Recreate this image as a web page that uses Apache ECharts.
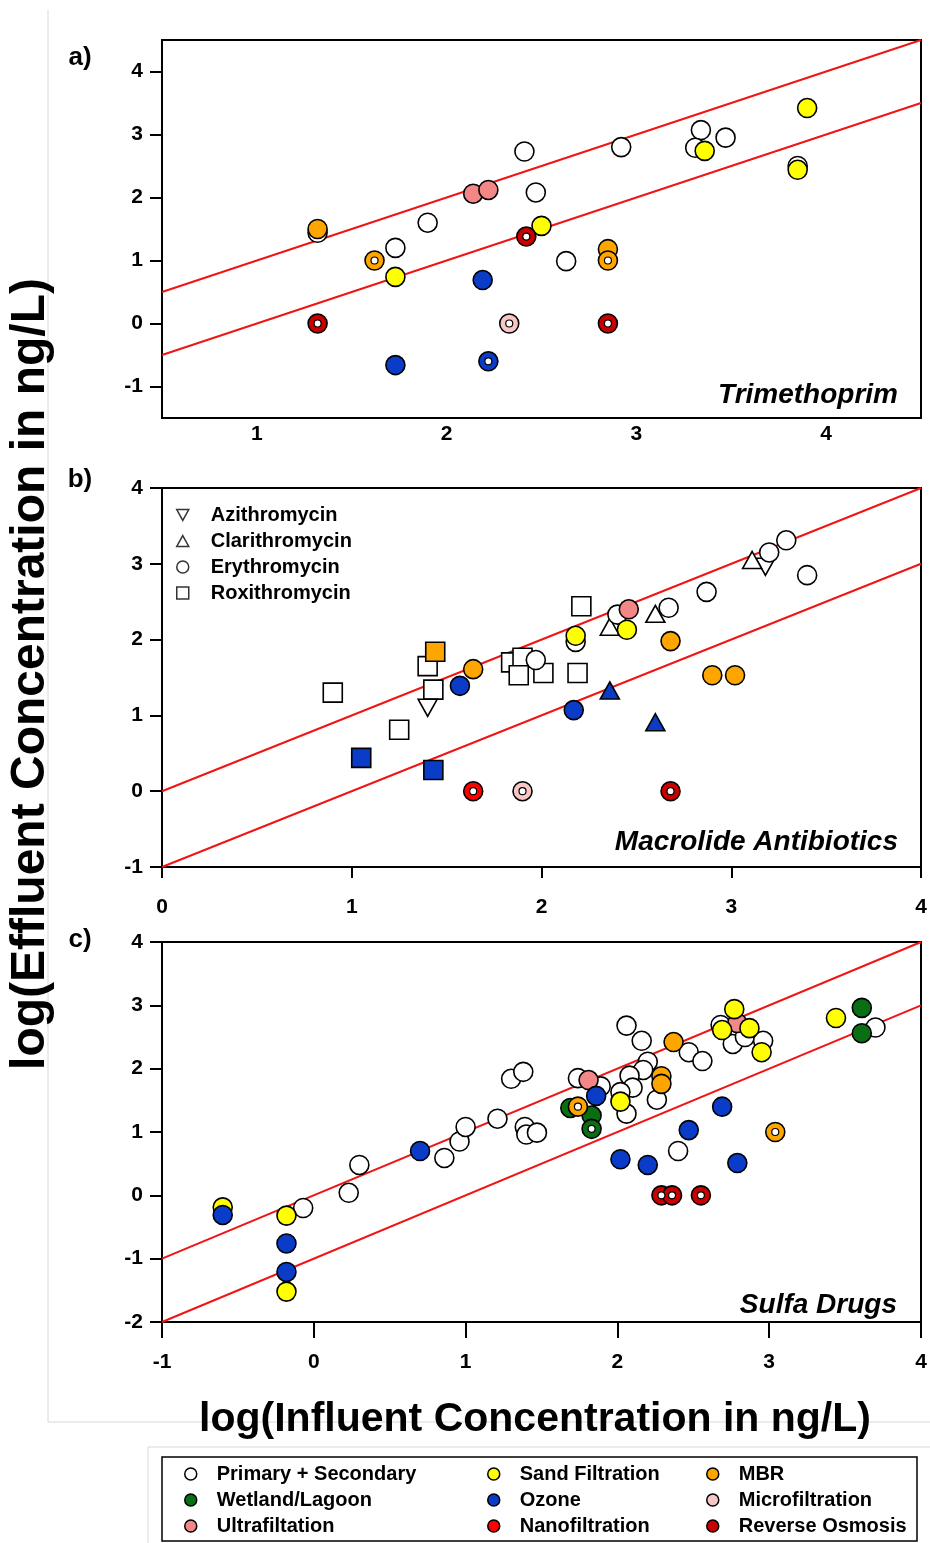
<!DOCTYPE html>
<html><head><meta charset="utf-8">
<script src="https://cdn.jsdelivr.net/npm/echarts@6/dist/echarts.min.js"></script>
<style>html,body{margin:0;padding:0;background:#fff}#c{width:930px;height:1543px}</style>
</head><body><div id="c"></div>
<script>
// ---------- DATA ----------
const treatmentCodes = ['P','W','U','S','O','N','M','F','R'];
const treatmentNames = ['Primary + Secondary','Wetland/Lagoon','Ultrafiltation','Sand Filtration','Ozone','Nanofiltration','MBR','Microfiltration','Reverse Osmosis'];
const treatmentColors = ['#ffffff','#0a6e14','#f38787','#ffff00','#0a3cc8','#ff0000','#ffa500','#f9c6c6','#c80000'];

const compoundCodes = ['A','C','E','R'];
const compoundNames = ['Azithromycin','Clarithromycin','Erythromycin','Roxithromycin'];

const panelTitles = ['Trimethoprim','Macrolide Antibiotics','Sulfa Drugs'];
const panelLetters = ['a)','b)','c)'];
const xRanges = [[0.5,4.5],[0,4],[-1,4]];
const yRanges = [[-1.5,4.5],[-1,4],[-2,4]];
const xTickValues = [[1,2,3,4],[0,1,2,3,4],[-1,0,1,2,3,4]];
const yTickValues = [[-1,0,1,2,3,4],[-1,0,1,2,3,4],[-2,-1,0,1,2,3,4]];
const refLineOffsets = [0,-1];

// [log influent, log effluent, treatment, censored(1=ring)]
const trimethoprimData = [
  [1.32,1.44,'P',0],[1.32,1.50,'M',0],[1.32,0.00,'R',1],[1.62,1.00,'M',1],
  [1.73,1.20,'P',0],[1.73,0.74,'S',0],[1.90,1.60,'P',0],[1.73,-0.66,'O',0],
  [2.14,2.06,'U',0],[2.22,2.12,'U',0],[2.41,2.73,'P',0],[2.47,2.08,'P',0],
  [2.42,1.38,'R',1],[2.50,1.55,'S',0],[2.63,0.99,'P',0],[2.85,1.18,'M',0],
  [2.85,1.00,'M',1],[2.19,0.69,'O',0],[2.33,0.00,'F',1],[2.85,0.00,'R',1],
  [2.22,-0.60,'O',1],[2.92,2.80,'P',0],[3.34,3.07,'P',0],[3.31,2.79,'P',0],
  [3.36,2.74,'S',0],[3.47,2.95,'P',0],[3.90,3.42,'S',0],[3.85,2.50,'P',0],
  [3.85,2.44,'S',0]
];

// [log influent, log effluent, treatment, compound, censored]
const macrolideData = [
  [0.90,1.30,'P','R',0],[1.44,1.84,'M','R',0],[1.40,1.65,'P','R',0],[1.43,1.34,'P','R',0],
  [1.25,0.81,'P','R',0],[1.05,0.44,'O','R',0],[1.43,0.28,'O','R',0],[1.84,1.70,'P','R',0],
  [1.90,1.76,'P','R',0],[1.88,1.53,'P','R',0],[2.01,1.56,'P','R',0],[2.21,2.44,'P','R',0],
  [2.19,1.56,'P','R',0],
  [1.40,1.10,'P','A',0],[3.18,2.96,'P','A',0],
  [2.36,2.17,'P','C',0],[2.60,2.34,'P','C',0],[3.11,3.05,'P','C',0],[2.36,1.33,'O','C',0],
  [2.60,0.91,'O','C',0],
  [1.97,1.73,'P','E',0],[1.57,1.39,'O','E',0],[1.64,1.61,'M','E',0],[1.64,0.00,'N','E',1],
  [1.90,0.00,'F','E',1],[2.18,2.05,'S','E',0],[2.18,1.97,'P','E',0],[2.17,1.07,'O','E',0],
  [2.40,2.33,'P','E',0],[2.46,2.40,'U','E',0],[2.45,2.13,'S','E',0],[2.67,2.42,'P','E',0],
  [2.68,1.98,'M','E',0],[2.68,0.00,'R','E',1],[2.87,2.63,'P','E',0],[2.90,1.53,'M','E',0],
  [3.02,1.53,'M','E',0],[3.20,3.15,'P','E',0],[3.29,3.31,'P','E',0],[3.40,2.85,'P','E',0]
];

// [log influent, log effluent, treatment, censored]
const sulfaData = [
  [-0.60,-0.19,'S',0],[-0.60,-0.31,'O',0],[-0.18,-0.32,'S',0],[-0.07,-0.20,'P',0],
  [-0.18,-0.76,'O',0],[-0.18,-1.21,'O',0],[-0.18,-1.52,'S',0],[0.23,0.04,'P',0],
  [0.30,0.48,'P',0],[0.70,0.70,'O',0],[0.86,0.59,'P',0],[0.96,0.85,'P',0],
  [1.00,1.08,'P',0],[1.21,1.21,'P',0],[1.30,1.84,'P',0],[1.38,1.95,'P',0],
  [1.39,1.08,'P',0],[1.40,0.96,'P',0],[1.47,0.99,'P',0],
  [1.69,1.38,'W',0],[1.74,1.40,'M',1],[1.74,1.85,'P',0],[1.89,1.72,'P',0],
  [1.81,1.82,'U',0],[1.86,1.57,'O',0],[1.83,1.26,'W',0],[1.83,1.05,'W',1],
  [2.06,2.68,'P',0],[2.16,2.44,'P',0],[2.37,2.42,'M',0],[2.47,2.26,'P',0],
  [2.56,2.12,'P',0],[2.20,2.11,'P',0],[2.17,1.98,'P',0],[2.08,1.89,'P',0],
  [2.10,1.70,'P',0],[2.02,1.63,'P',0],[2.02,1.48,'S',0],[2.06,1.29,'P',0],
  [2.29,1.88,'M',0],[2.29,1.76,'M',0],[2.26,1.51,'P',0],
  [2.69,1.40,'O',0],[2.47,1.03,'O',0],[2.40,0.70,'P',0],[2.02,0.57,'O',0],
  [2.20,0.48,'O',0],[2.79,0.51,'O',0],[3.04,1.00,'M',1],
  [2.29,0.00,'R',1],[2.36,0.00,'R',1],[2.55,0.00,'R',1],
  [2.68,2.69,'P',0],[2.76,2.39,'P',0],[2.84,2.50,'P',0],[2.96,2.44,'P',0],
  [2.77,2.94,'S',0],[2.69,2.61,'S',0],[2.87,2.64,'S',0],[2.95,2.26,'S',0],
  [2.79,2.72,'U',0],
  [3.44,2.80,'S',0],[3.61,2.96,'W',0],[3.61,2.56,'W',0],[3.70,2.65,'P',0]
];

// ---------- BUILD ----------
const FONT = '"Liberation Sans", Arial, sans-serif';
const chart = echarts.init(document.getElementById('c'), null, {renderer:'canvas'});

const gridBoxes = [
  {left:162, top:40, width:759, height:378},
  {left:162, top:488, width:759, height:379},
  {left:162, top:942, width:759, height:380}
];
const xTickLen = [0, 11, 16];
const xLabelMargin = [6, 30, 30];

const grids = gridBoxes.map(g => Object.assign({show:true, borderColor:'#000', borderWidth:2, backgroundColor:'#fff'}, g));
const xAxes = gridBoxes.map((g,i) => ({
  type:'value', gridIndex:i, min:xRanges[i][0], max:xRanges[i][1],
  axisLine:{show:true, onZero:false, lineStyle:{color:'#000', width:2}},
  axisTick:{show:xTickLen[i]>0, length:xTickLen[i], customValues:xTickValues[i], lineStyle:{color:'#000', width:2}},
  axisLabel:{customValues:xTickValues[i], margin:xLabelMargin[i], color:'#000', fontFamily:FONT, fontWeight:'bold', fontSize:21},
  splitLine:{show:false}
}));
const yAxes = gridBoxes.map((g,i) => ({
  type:'value', gridIndex:i, min:yRanges[i][0], max:yRanges[i][1],
  axisLine:{show:true, onZero:false, lineStyle:{color:'#000', width:2}},
  axisTick:{show:true, length:12, customValues:yTickValues[i], lineStyle:{color:'#000', width:2}},
  axisLabel:{customValues:yTickValues[i], margin:19, color:'#000', fontFamily:FONT, fontWeight:'bold', fontSize:21},
  splitLine:{show:false}
}));

const series = [];
// reference lines (1:1 and 1:10 removal)
[0,1,2].forEach(p => {
  refLineOffsets.forEach(off => {
    series.push({
      type:'line', xAxisIndex:p, yAxisIndex:p, silent:true, symbol:'none', clip:true, z:1,
      lineStyle:{color:'#f01414', width:2},
      data:[[xRanges[p][0], xRanges[p][0]+off],[xRanges[p][1], xRanges[p][1]+off]]
    });
  });
});

const invTri = 'path://M0,0 L10,0 L5,9 Z';
const upTri = 'path://M5,0 L10,9 L0,9 Z';
const compoundSymbol = {A:invTri, C:upTri, E:'circle', R:'rect'};
const compoundSize = {A:[19,17], C:[19,17], E:19, R:19};

const panelData = [
  trimethoprimData.map(r => ({x:r[0], y:r[1], t:r[2], c:'E', ring:r[3]})),
  macrolideData.map(r => ({x:r[0], y:r[1], t:r[2], c:r[3], ring:r[4]})),
  sulfaData.map(r => ({x:r[0], y:r[1], t:r[2], c:'E', ring:r[3]}))
];

panelData.forEach((rows, p) => {
  treatmentCodes.forEach((code, ti) => {
    [0,1].forEach(ring => {
      const sel = rows.filter(r => r.t === code && r.ring === ring);
      if (!sel.length) return;
      series.push({
        type:'scatter', name:treatmentNames[ti], xAxisIndex:p, yAxisIndex:p, z:3,
        data: sel.map(r => ({value:[r.x, r.y], symbol:compoundSymbol[r.c], symbolSize:compoundSize[r.c]})),
        symbol:'circle', symbolSize:19,
        itemStyle:{color:treatmentColors[ti], borderColor:'#000', borderWidth:1.6, opacity:1},
        emphasis:{disabled:true}
      });
    });
  });
  const rings = rows.filter(r => r.ring === 1);
  if (rings.length) {
    series.push({
      type:'scatter', name:'censored', xAxisIndex:p, yAxisIndex:p, z:4,
      data: rings.map(r => [r.x, r.y]), symbol:'circle', symbolSize:7,
      itemStyle:{color:'#fff', borderColor:'#000', borderWidth:1.2, opacity:1},
      emphasis:{disabled:true}
    });
  }
});

// compound legend series (panel b)
compoundNames.forEach((nm, i) => {
  series.push({
    type:'scatter', name:nm, xAxisIndex:1, yAxisIndex:1, data:[],
    symbol:compoundSymbol[compoundCodes[i]], symbolSize:12,
    itemStyle:{color:'#fff', borderColor:'#000', borderWidth:1.6}
  });
});

const legendText = {color:'#000', fontFamily:FONT, fontWeight:'bold', fontSize:20, padding:[0,0,0,15]};
const legends = [
  {data:compoundNames.map(n => ({name:n})), left:176, top:505, itemGap:6, textStyle:Object.assign({}, legendText, {padding:[0,0,0,17]})},
  {data:treatmentNames.slice(0,3).map(n => ({name:n, icon:'circle'})), left:184, top:1464, itemGap:6},
  {data:[3,4,5].map(i => ({name:treatmentNames[i], icon:'circle'})), left:487, top:1464, itemGap:6},
  {data:[6,7,8].map(i => ({name:treatmentNames[i], icon:'circle'})), left:706, top:1464, itemGap:6}
].map(l => Object.assign({orient:'vertical', itemWidth:12, itemHeight:12, padding:0, selectedMode:false,
  textStyle:legendText, itemStyle:{borderColor:'#000', borderWidth:1.5}}, l));

const titlePos = [[898,395],[898,842],[897,1305]];
const letterPos = [[80,58],[80,480],[80,940]];
const graphics = [
  {type:'line', shape:{x1:48, y1:10, x2:48, y2:1422}, style:{stroke:'#d8d8d8', lineWidth:1}, z:0},
  {type:'line', shape:{x1:48, y1:1422, x2:930, y2:1422}, style:{stroke:'#d8d8d8', lineWidth:1}, z:0},
  {type:'line', shape:{x1:148, y1:1447, x2:148, y2:1543}, style:{stroke:'#d8d8d8', lineWidth:1}, z:0},
  {type:'line', shape:{x1:148, y1:1447, x2:930, y2:1447}, style:{stroke:'#d8d8d8', lineWidth:1}, z:0},
  {type:'rect', shape:{x:162, y:1457, width:755, height:84}, style:{fill:'none', stroke:'#000', lineWidth:1.5}, z:0},
  {type:'text', x:31, y:674, rotation:Math.PI/2, z:10,
   style:{text:'log(Effluent Concentration in ng/L)', font:'bold 48px '+FONT, fill:'#000', align:'center', verticalAlign:'middle'}},
  {type:'text', x:535, y:1420, z:10,
   style:{text:'log(Influent Concentration in ng/L)', font:'bold 41px '+FONT, fill:'#000', align:'center', verticalAlign:'middle'}}
];
panelTitles.forEach((t,i) => {
  graphics.push({type:'text', x:titlePos[i][0], y:titlePos[i][1], z:10,
    style:{text:t, font:'italic bold 28px '+FONT, fill:'#000', align:'right', verticalAlign:'middle'}});
  graphics.push({type:'text', x:letterPos[i][0], y:letterPos[i][1], z:10,
    style:{text:panelLetters[i], font:'bold 26px '+FONT, fill:'#000', align:'center', verticalAlign:'middle'}});
});

chart.setOption({
  animation:false,
  backgroundColor:'#fff',
  grid:grids, xAxis:xAxes, yAxis:yAxes,
  legend:legends,
  series:series,
  graphic:graphics
});
</script></body></html>
